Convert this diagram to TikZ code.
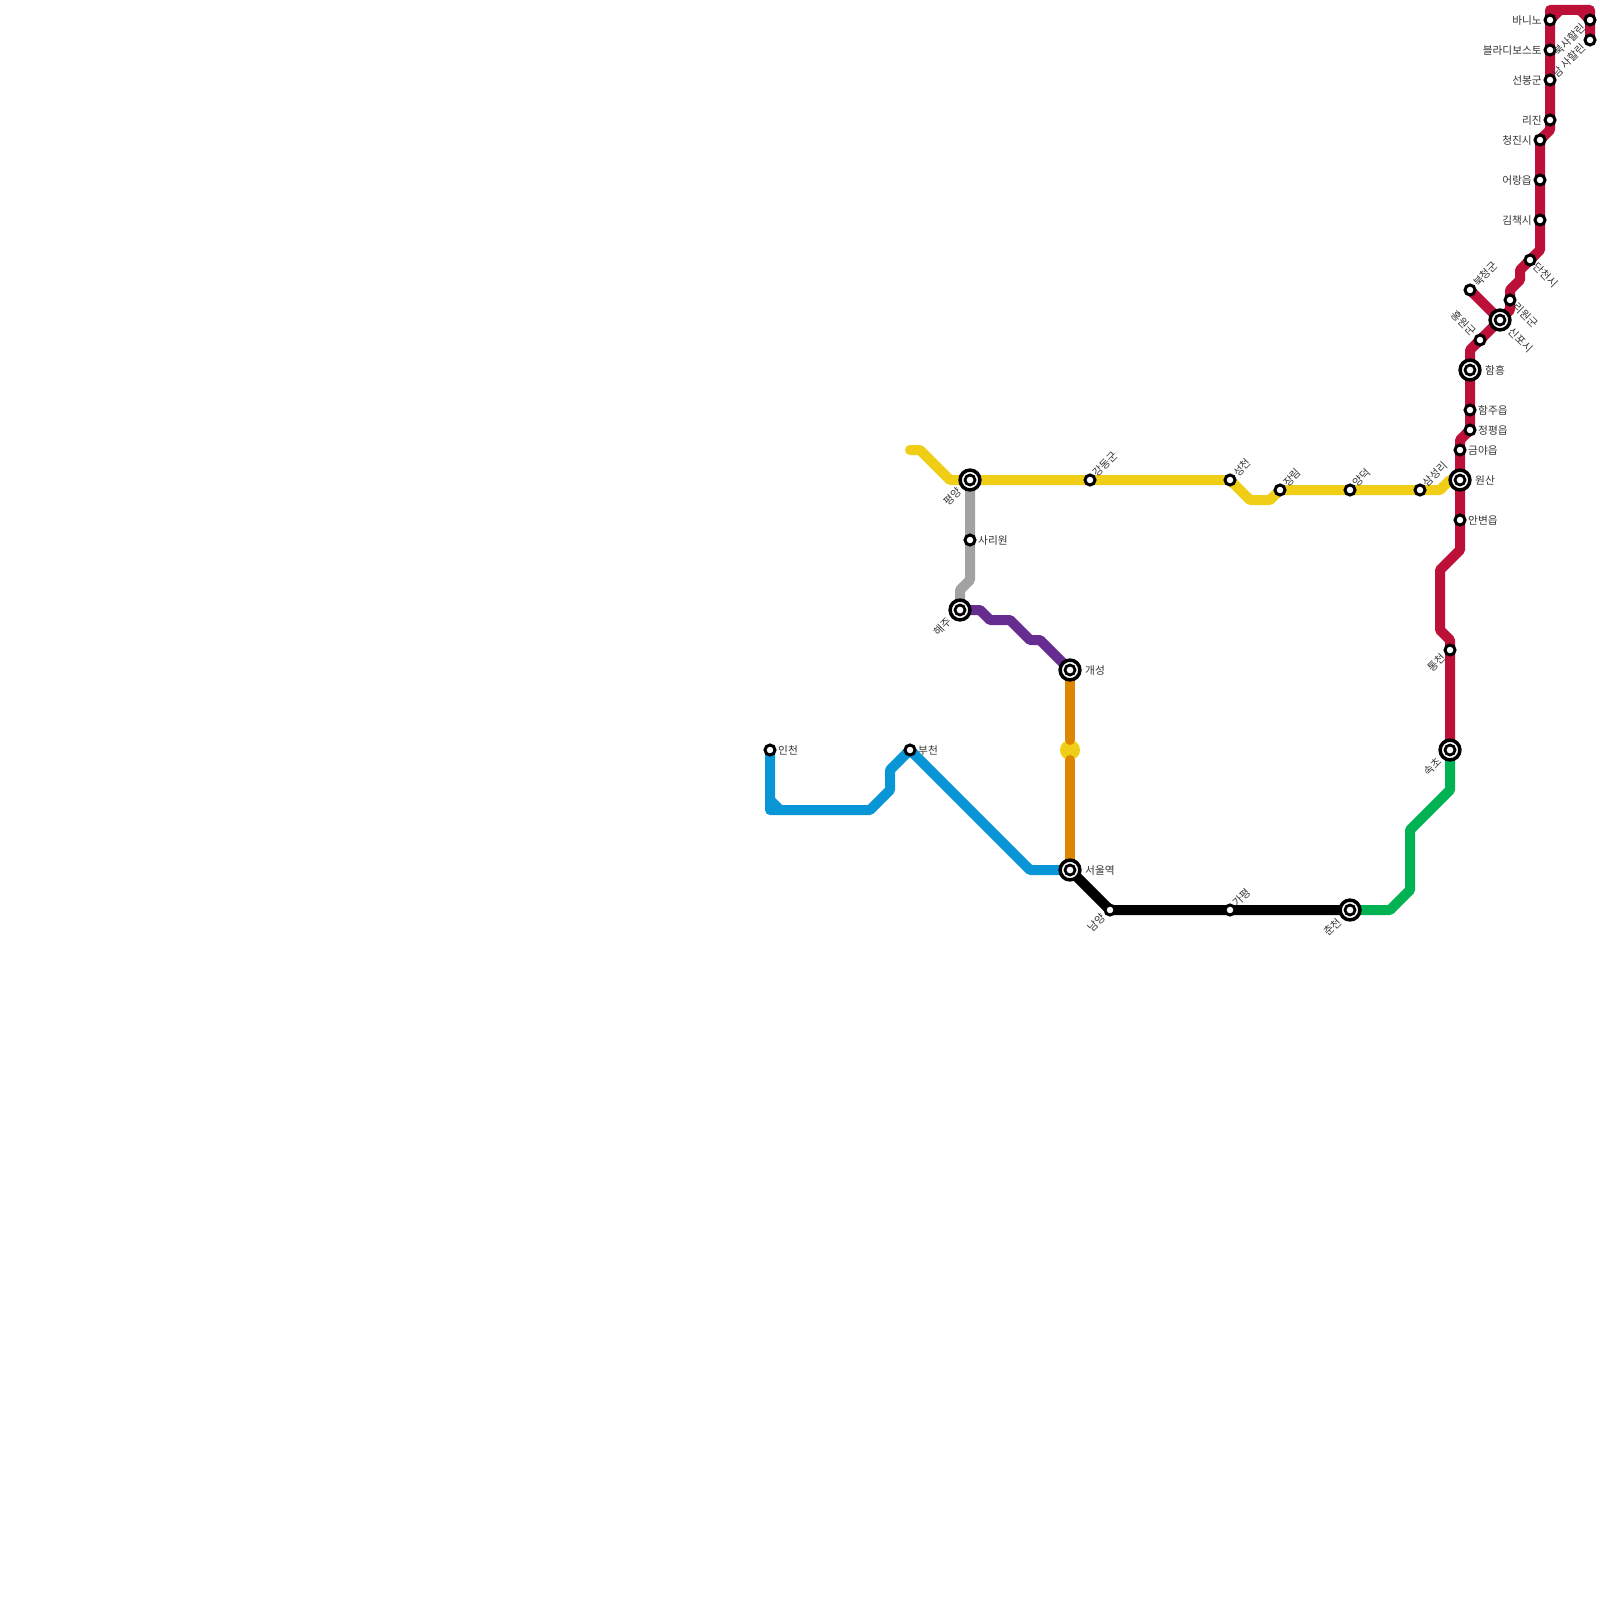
\documentclass[tikz,border=0pt]{standalone}
\usepackage{fontspec}
\setmainfont{Noto Sans CJK KR}
\usetikzlibrary{backgrounds}
\definecolor{cred}{HTML}{BD1038}
\definecolor{cyellow}{HTML}{F0CE15}
\definecolor{cgrey}{HTML}{A2A2A2}
\definecolor{cpurple}{HTML}{662C90}
\definecolor{corange}{HTML}{DF8600}
\definecolor{cblue}{HTML}{0896D7}
\definecolor{cgreen}{HTML}{00B251}
\definecolor{cink}{HTML}{333333}
\tikzset{
  every picture/.style={x=1pt, y=-1pt, font=\fontsize{10.7}{11}\selectfont},
  stn/.style={circle, draw=black, fill=white, line width=3pt, minimum size=10pt, inner sep=0pt},
  hub/.style={circle, draw=black, fill=white, line width=3.5pt, minimum size=19.8pt, inner sep=0pt,
    path picture={\draw[black, line width=2.8pt] (path picture bounding box.center) circle (5pt);}},
  route/.style={draw=#1, line width=10pt, line cap=round, line join=round},
  lab/.style={text=cink, inner sep=0pt},
  labR/.style={lab, anchor=west, xshift=8pt},
  labL/.style={lab, anchor=east, xshift=-8pt},
  labHR/.style={lab, anchor=west, xshift=15pt},
  labNE/.style={lab, anchor=west, xshift=5pt, yshift=5pt, rotate=45},
  labSW/.style={lab, anchor=east, xshift=-6pt, yshift=-6pt, rotate=45},
  labHSW/.style={lab, anchor=east, xshift=-10pt, yshift=-10pt, rotate=45},
  labSE/.style={lab, anchor=west, xshift=5pt, yshift=-5pt, rotate=-45},
  labHSE/.style={lab, anchor=west, xshift=10pt, yshift=-10pt, rotate=-45},
  labNW/.style={lab, anchor=east, xshift=-6pt, yshift=6pt, rotate=-45},
}
\begin{document}
\begin{tikzpicture}
  \useasboundingbox (0,0) rectangle (1600,1600);
  % plain stops
  \foreach \n/\x/\y/\k/\t in {
    banino/1550/20/L/바니노, vladivostok/1550/50/L/블라디보스토, seonbong/1550/80/L/선봉군,
    rijin/1550/120/L/리진, chongjin/1540/140/L/청진시, orang/1540/180/L/어랑읍,
    kimchaek/1540/220/L/김책시, tanchon/1530/260/SE/단천시, riwon/1510/300/SE/리원군,
    pukchong/1470/290/NE/북청군, hongwon/1480/340/NW/홍원군, hamju/1470/410/R/함주읍,
    jongpyong/1470/430/R/정평읍, kumya/1460/450/R/금야읍, anbyon/1460/520/R/안변읍,
    samsong/1420/490/NE/삼성리, yangdok/1350/490/NE/양덕, jangrim/1280/490/NE/장림,
    songchon/1230/480/NE/성천, kangdong/1090/480/NE/강동군, sariwon/970/540/R/사리원,
    tongchon/1450/650/SW/통천, gapyeong/1230/910/NE/가평, namyang/1110/910/SW/남양,
    incheon/770/750/R/인천, bucheon/910/750/R/부천,
    nsakhalin/1590/20/SW/북사할린, ssakhalin/1590/40/SW/남 사할린}
    { \node[stn] (\n) at (\x,\y) {};
      \node[lab\k] (l\n) at (\n) {\t}; }
  % interchanges
  \foreach \n/\x/\y/\k/\t in {
    sinpo/1500/320/HSE/신포시, hamhung/1470/370/HR/함흥, wonsan/1460/480/HR/원산,
    pyongyang/970/480/HSW/평양, haeju/960/610/HSW/해주, kaesong/1070/670/HR/개성,
    seoul/1070/870/HR/서울역, sokcho/1450/750/HSW/속초, chuncheon/1350/910/HSW/춘천}
    { \node[hub] (\n) at (\x,\y) {};
      \node[lab\k] (l\n) at (\n) {\t}; }
  \begin{scope}[on background layer]
    \node[circle, fill=cyellow, minimum size=20pt, inner sep=0pt] (dmz) at (1070,750) {};
    \draw[route=cyellow] (910,450) -- (920,450) -- (950,480) -- (pyongyang.center) -- (songchon.center) -- (1250,500) -- (1270,500) -- (jangrim.center) -- (samsong.center) -- (1440,490) -- (1450,480) -- (wonsan.center);
    \draw[route=cgrey] (pyongyang.center) -- (970,580) -- (960,590) -- (haeju.center);
    \draw[route=cpurple] (haeju.center) -- (980,610) -- (990,620) -- (1010,620) -- (1030,640) -- (1040,640) -- (kaesong.center);
    \draw[route=corange] (kaesong.center) -- (1070,740);
    \draw[route=corange] (1070,760) -- (seoul.center);
    \draw[route=cblue] (incheon.center) -- (770,810) -- (870,810) -- (890,790) -- (890,770) -- (bucheon.center) -- (1030,870) -- (seoul.center);
    \draw[route=cblue] (770,800) -- (780,810);
    \draw[route=black] (seoul.center) -- (namyang.center) -- (chuncheon.center);
    \draw[route=cgreen] (chuncheon.center) -- (1390,910) -- (1410,890) -- (1410,830) -- (1450,790) -- (sokcho.center);
    \draw[route=cred] (sokcho.center) -- (tongchon.center) -- (1450,640) -- (1440,630) -- (1440,570) -- (1460,550) -- (1460,440) -- (jongpyong.center) -- (1470,350) -- (sinpo.center) -- (1510,310) -- (1510,290) -- (1520,280) -- (1520,270) -- (1540,250) -- (chongjin.center) -- (1550,130) -- (banino.center) -- (1550,10) -- (1590,10) -- (ssakhalin.center);
    \draw[route=cred] (banino.center) -- (1560,10);
    \draw[route=cred] (1580,10) -- (nsakhalin.center);
    \draw[route=cred] (pukchong.center) -- (sinpo.center);
  \end{scope}
\end{tikzpicture}
\end{document}
